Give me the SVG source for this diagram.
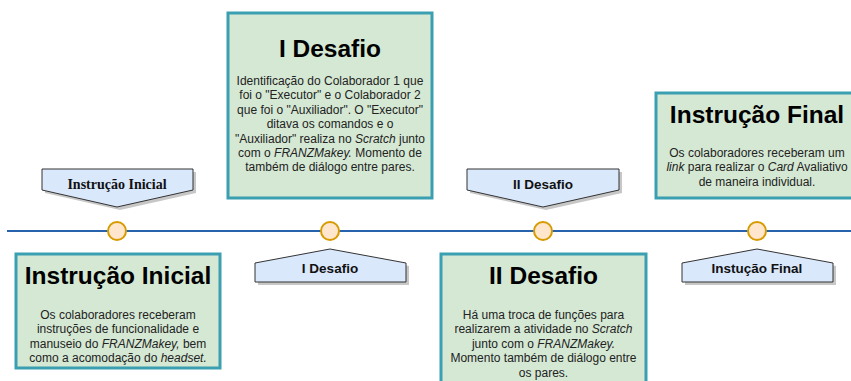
<svg xmlns="http://www.w3.org/2000/svg" width="851" height="381" viewBox="0 0 851 381">
<style>
.box{fill:#d5e8d4;stroke:#3a9fb1;stroke-width:3}
.title{font-family:"Liberation Sans",Arial,sans-serif;font-weight:bold;font-size:24.5px;fill:#000;text-anchor:middle}
.body{font-family:"Liberation Sans",Arial,sans-serif;font-size:12px;fill:#222;text-anchor:middle}
.it{font-style:italic}
.call{fill:#dae8fc;stroke:#333;stroke-width:1}
.shadow{fill:#000;opacity:0.22}
.ctext{font-family:"Liberation Sans",Arial,sans-serif;font-weight:bold;font-size:13.5px;fill:#111;text-anchor:middle}
.cserif{font-family:"Liberation Serif","Times New Roman",serif;font-weight:bold;font-size:14px;fill:#111;text-anchor:middle}
.dot{fill:#ffe6cc;stroke:#d79b00;stroke-width:2}
</style>
<rect width="851" height="381" fill="#fff"/>
<g id="connectors">
  <line x1="7" y1="231" x2="851" y2="231" stroke="#2763ac" stroke-width="2"/>
</g>
<g id="dot1"><circle class="dot" cx="117" cy="231" r="9"/></g>
<g id="dot2"><circle class="dot" cx="330" cy="231" r="9"/></g>
<g id="dot3"><circle class="dot" cx="543" cy="231" r="9"/></g>
<g id="dot4"><circle class="dot" cx="757" cy="231" r="9"/></g>

<g id="callout-instrucao-inicial">
  <polygon class="shadow" points="45,172 196,172 196,193 120,210 45,193"/>
  <polygon class="call" points="42,169 193,169 193,190 117,207 42,190"/>
  <text class="cserif" x="117" y="189">Instrução Inicial</text>
</g>
<g id="callout-i-desafio">
  <polygon class="shadow" points="258,285 409,285 409,266 333,252 258,266"/>
  <polygon class="call" points="255,282 406,282 406,263 330,249 255,263"/>
  <text class="ctext" x="330" y="273">I Desafio</text>
</g>
<g id="callout-ii-desafio">
  <polygon class="shadow" points="470,172 622,172 622,193 546,210 470,193"/>
  <polygon class="call" points="467,169 619,169 619,190 543,207 467,190"/>
  <text class="ctext" x="543" y="189">II Desafio</text>
</g>
<g id="callout-instrucao-final">
  <polygon class="shadow" points="685,285 836,285 836,266 760,252 685,266"/>
  <polygon class="call" points="682,282 833,282 833,263 757,249 682,263"/>
  <text class="ctext" x="757" y="273">Instução Final</text>
</g>

<g id="box-instrucao-inicial">
  <rect class="box" x="16" y="254" width="204" height="114"/>
  <text class="title" x="118" y="284">Instrução Inicial</text>
  <text class="body" x="118" y="319">Os colaboradores receberam</text>
  <text class="body" x="118" y="333.4">instruções de funcionalidade e</text>
  <text class="body" x="118" y="347.8">manuseio do <tspan class="it">FRANZMakey,</tspan> bem</text>
  <text class="body" x="118" y="362.2">como a acomodação do <tspan class="it">headset.</tspan></text>
</g>

<g id="box-i-desafio">
  <rect class="box" x="228" y="13" width="204" height="185"/>
  <text class="title" x="330" y="56.5">I Desafio</text>
  <text class="body" x="330" y="85">Identificação do Colaborador 1 que</text>
  <text class="body" x="330" y="99.4">foi o "Executor" e o Colaborador 2</text>
  <text class="body" x="330" y="113.8">que foi o "Auxiliador". O "Executor"</text>
  <text class="body" x="330" y="128.2">ditava os comandos e o</text>
  <text class="body" x="330" y="142.6">"Auxiliador" realiza no <tspan class="it">Scratch</tspan> junto</text>
  <text class="body" x="330" y="157">com o <tspan class="it">FRANZMakey.</tspan> Momento de</text>
  <text class="body" x="330" y="171.4">também de diálogo entre pares.</text>
</g>

<g id="box-ii-desafio">
  <rect class="box" x="441" y="254" width="205" height="140"/>
  <text class="title" x="543.5" y="284">II Desafio</text>
  <text class="body" x="543.5" y="319">Há uma troca de funções para</text>
  <text class="body" x="543.5" y="333.4">realizarem a atividade no <tspan class="it">Scratch</tspan></text>
  <text class="body" x="543.5" y="347.8">junto com o <tspan class="it">FRANZMakey.</tspan></text>
  <text class="body" x="543.5" y="362.2">Momento também de diálogo entre</text>
  <text class="body" x="543.5" y="376.6">os pares.</text>
</g>

<g id="box-instrucao-final">
  <rect class="box" x="656" y="93" width="210" height="105"/>
  <text class="title" x="757" y="122.5">Instrução Final</text>
  <text class="body" x="757" y="157">Os colaboradores receberam um</text>
  <text class="body" x="757" y="171.4"><tspan class="it">link</tspan> para realizar o <tspan class="it">Card</tspan> Avaliativo</text>
  <text class="body" x="757" y="185.8">de maneira individual.</text>
</g>
</svg>
